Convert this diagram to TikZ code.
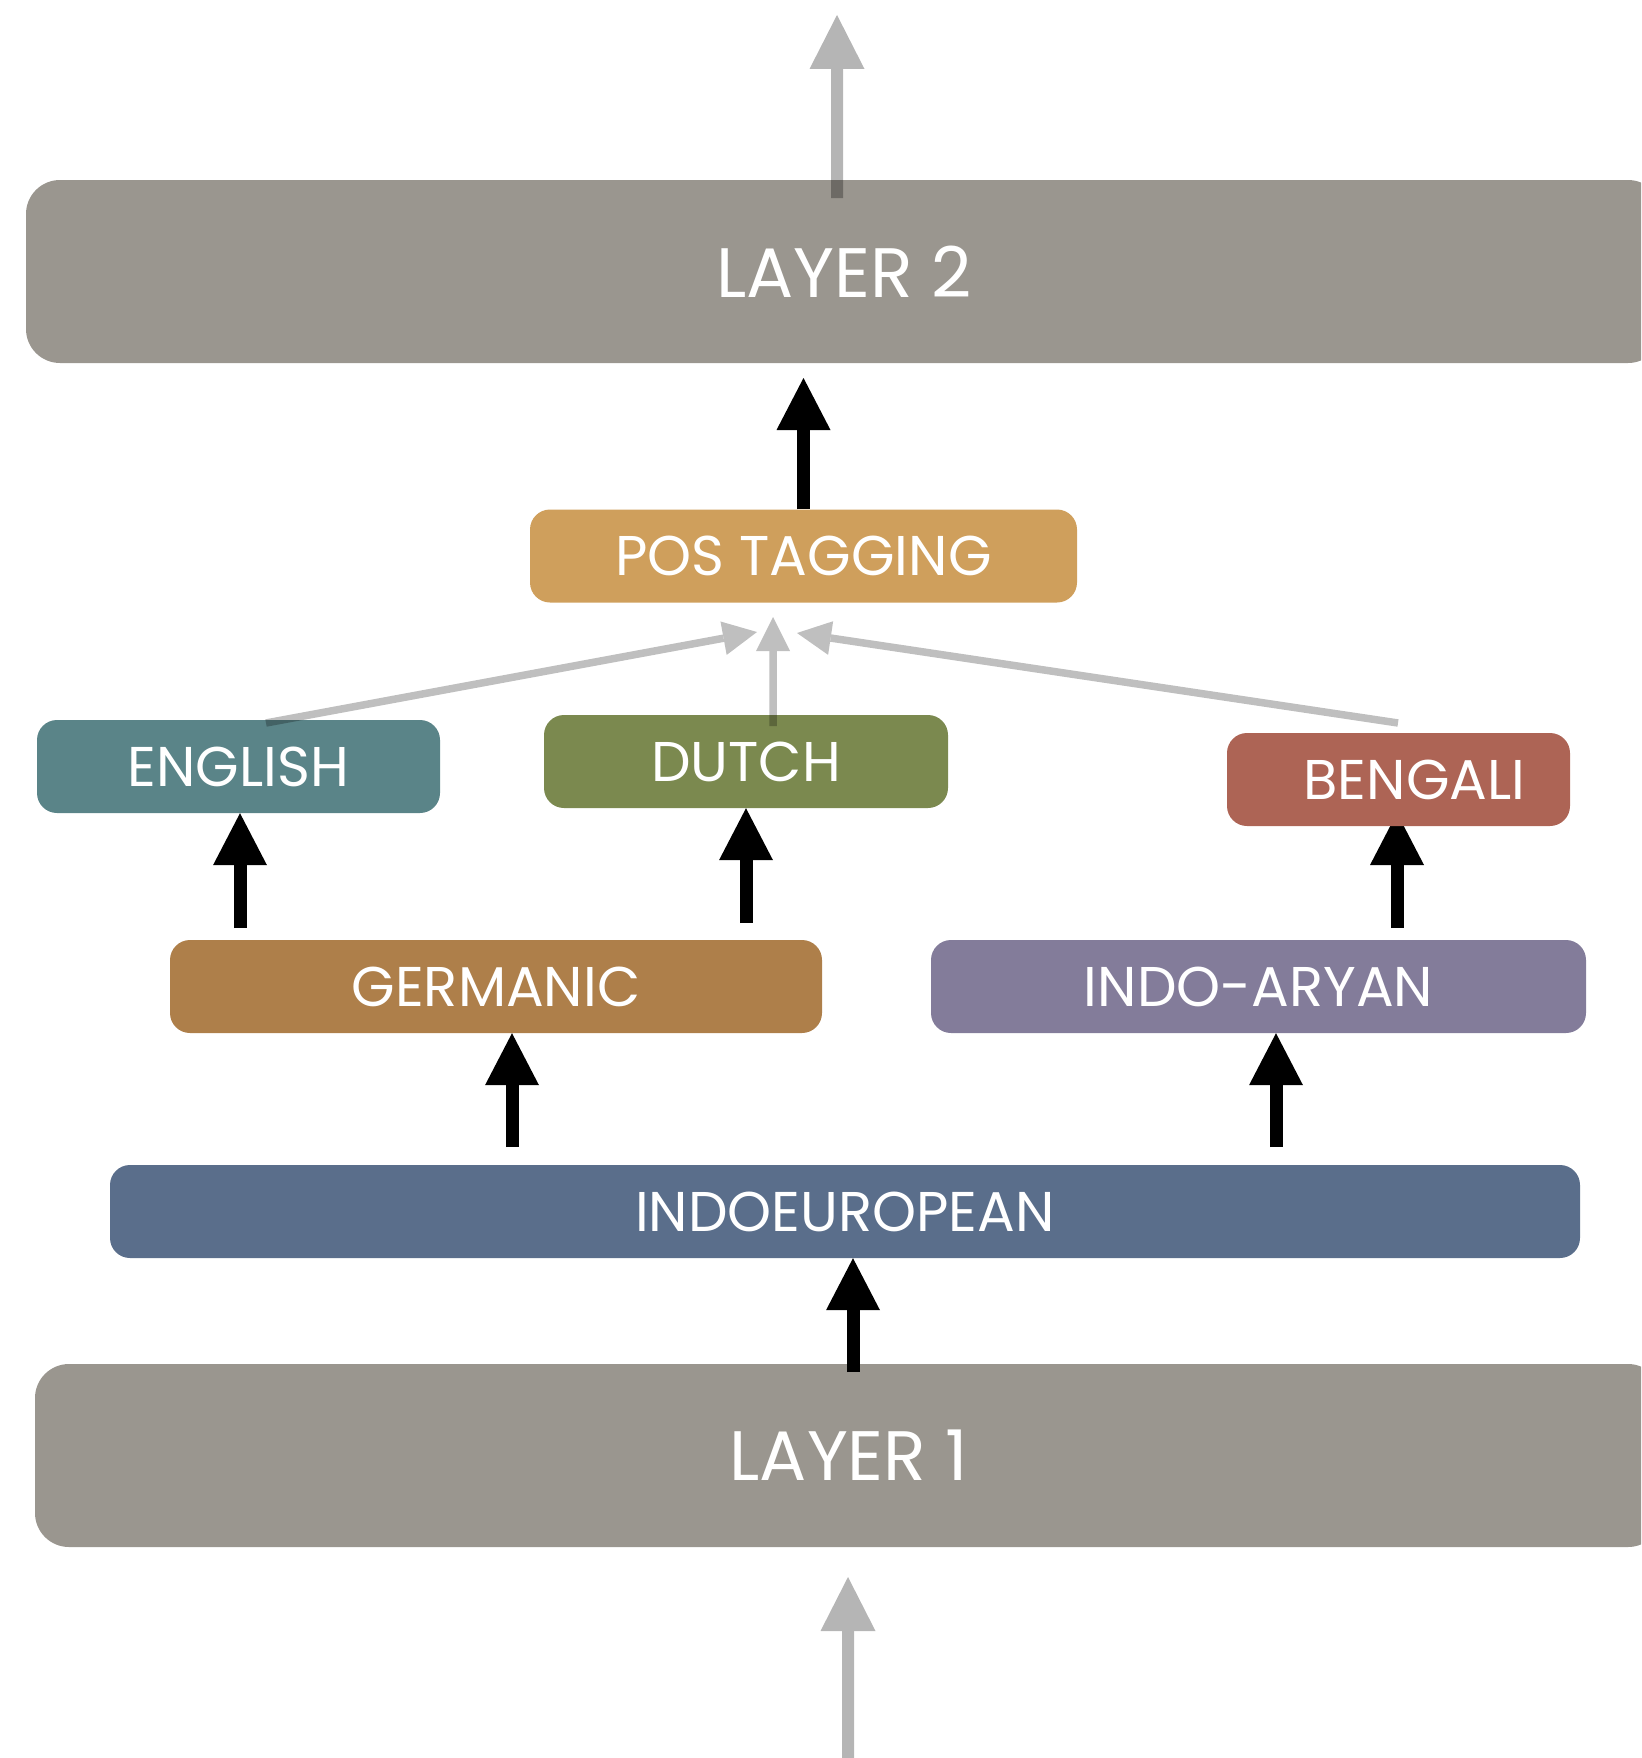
\documentclass[tikz,border=0pt]{standalone}
\usepackage{fontspec}
\setmainfont{Poppins}
\usetikzlibrary{arrows.meta,calc,backgrounds}
\definecolor{layergray}{RGB}{154,150,143}
\definecolor{poscol}{RGB}{207,159,92}
\definecolor{engcol}{RGB}{90,132,136}
\definecolor{dutcol}{RGB}{123,137,79}
\definecolor{bencol}{RGB}{173,100,85}
\definecolor{gercol}{RGB}{174,127,74}
\definecolor{indcol}{RGB}{131,124,154}
\definecolor{iecol}{RGB}{90,110,139}
\tikzset{
  box/.style={rounded corners=20pt, inner sep=0pt, text=white, font=\fontsize{56}{60}\selectfont, minimum height=93pt},
  layerbox/.style={rounded corners=34pt, inner sep=0pt, fill=layergray, text=white, font=\fontsize{70}{74}\selectfont, minimum height=183pt},
  blk/.style={draw=black, line width=13pt, -{Triangle[length=52pt,width=54pt,line width=0pt]}},
  gryio/.style={draw=black, line width=12pt, -{Triangle[length=54pt,width=55pt,line width=0pt]}},
  grysmall/.style={draw=black, line width=7.5pt, -{Triangle[length=34pt,width=34pt,line width=0pt]}},
  grpio/.style={transparency group, opacity=0.29},
  grpsmall/.style={transparency group, opacity=0.25}
}
\begin{document}
\begin{tikzpicture}[x=1pt,y=-1pt]
\useasboundingbox (0,0) rectangle (1641,1758);
\clip (0,0) rectangle (1641,1758);
% nodes
\node[layerbox, minimum width=1636pt] (layer2) at (844,271.5) {LAYER 2};
\node[layerbox, minimum width=1627pt] (layer1) at (848.5,1455.5) {LAYER 1};
\node[box, fill=poscol, minimum width=547pt] (pos) at (803.5,556) {POS TAGGING};
\node[box, fill=engcol, minimum width=403pt] (english) at (238.5,766.5) {ENGLISH};
\node[box, fill=dutcol, minimum width=404pt] (dutch) at (746,761.5) {DUTCH};
\node[box, fill=bencol, minimum width=343pt] (bengali) at (1398.5,779.5) {\hspace*{32pt}BENGALI};
\node[box, fill=gercol, minimum width=652pt] (germanic) at (496,986.5) {GERMANIC};
\node[box, fill=indcol, minimum width=655pt] (indoaryan) at (1258.5,986.5) {INDO-ARYAN};
\node[box, fill=iecol, minimum width=1470pt] (indoeuro) at (845,1211.5) {INDOEUROPEAN};
% coordinates
\coordinate (topstart) at (837,198);
\coordinate (toptip) at (837,15);
\coordinate (botstart) at (848,1770);
\coordinate (bottip) at (848,1577);
\coordinate (l1out) at (853,1372);
\coordinate (gerin) at (512,1147);
\coordinate (indin) at (1276,1147);
\coordinate (engin) at (240,928);
\coordinate (dutin) at (746,923);
\coordinate (benin) at (1397,928);
\coordinate (benend) at (1397,813);
\coordinate (posout) at (803.5,510);
\coordinate (postip) at (803.5,378);
\coordinate (engout) at (266,723);
\coordinate (dutout) at (773,726);
\coordinate (benout) at (1398,723);
\coordinate (tipL) at (757,632);
\coordinate (tipM) at (773,617);
\coordinate (tipR) at (797,633);
% black arrows
\draw[blk] (l1out) -- (l1out |- indoeuro.south);
\draw[blk] (gerin) -- (gerin |- germanic.south);
\draw[blk] (indin) -- (indin |- indoaryan.south);
\draw[blk] (engin) -- (engin |- english.south);
\draw[blk] (dutin) -- (dutin |- dutch.south);
\begin{pgfonlayer}{background}
\draw[blk] (benin) -- (benend);
\end{pgfonlayer}
\draw[blk] (posout |- pos.north) -- (postip);
% gray arrows
\begin{scope}[grpio]
\draw[gryio] (topstart) -- (toptip);
\end{scope}
\begin{scope}[grpio]
\draw[gryio] (botstart) -- (bottip);
\end{scope}
\begin{scope}[grpsmall]
\draw[grysmall] (engout) -- (tipL);
\draw[grysmall] (dutout) -- (tipM);
\draw[grysmall] (benout) -- (tipR);
\end{scope}
\end{tikzpicture}
\end{document}
